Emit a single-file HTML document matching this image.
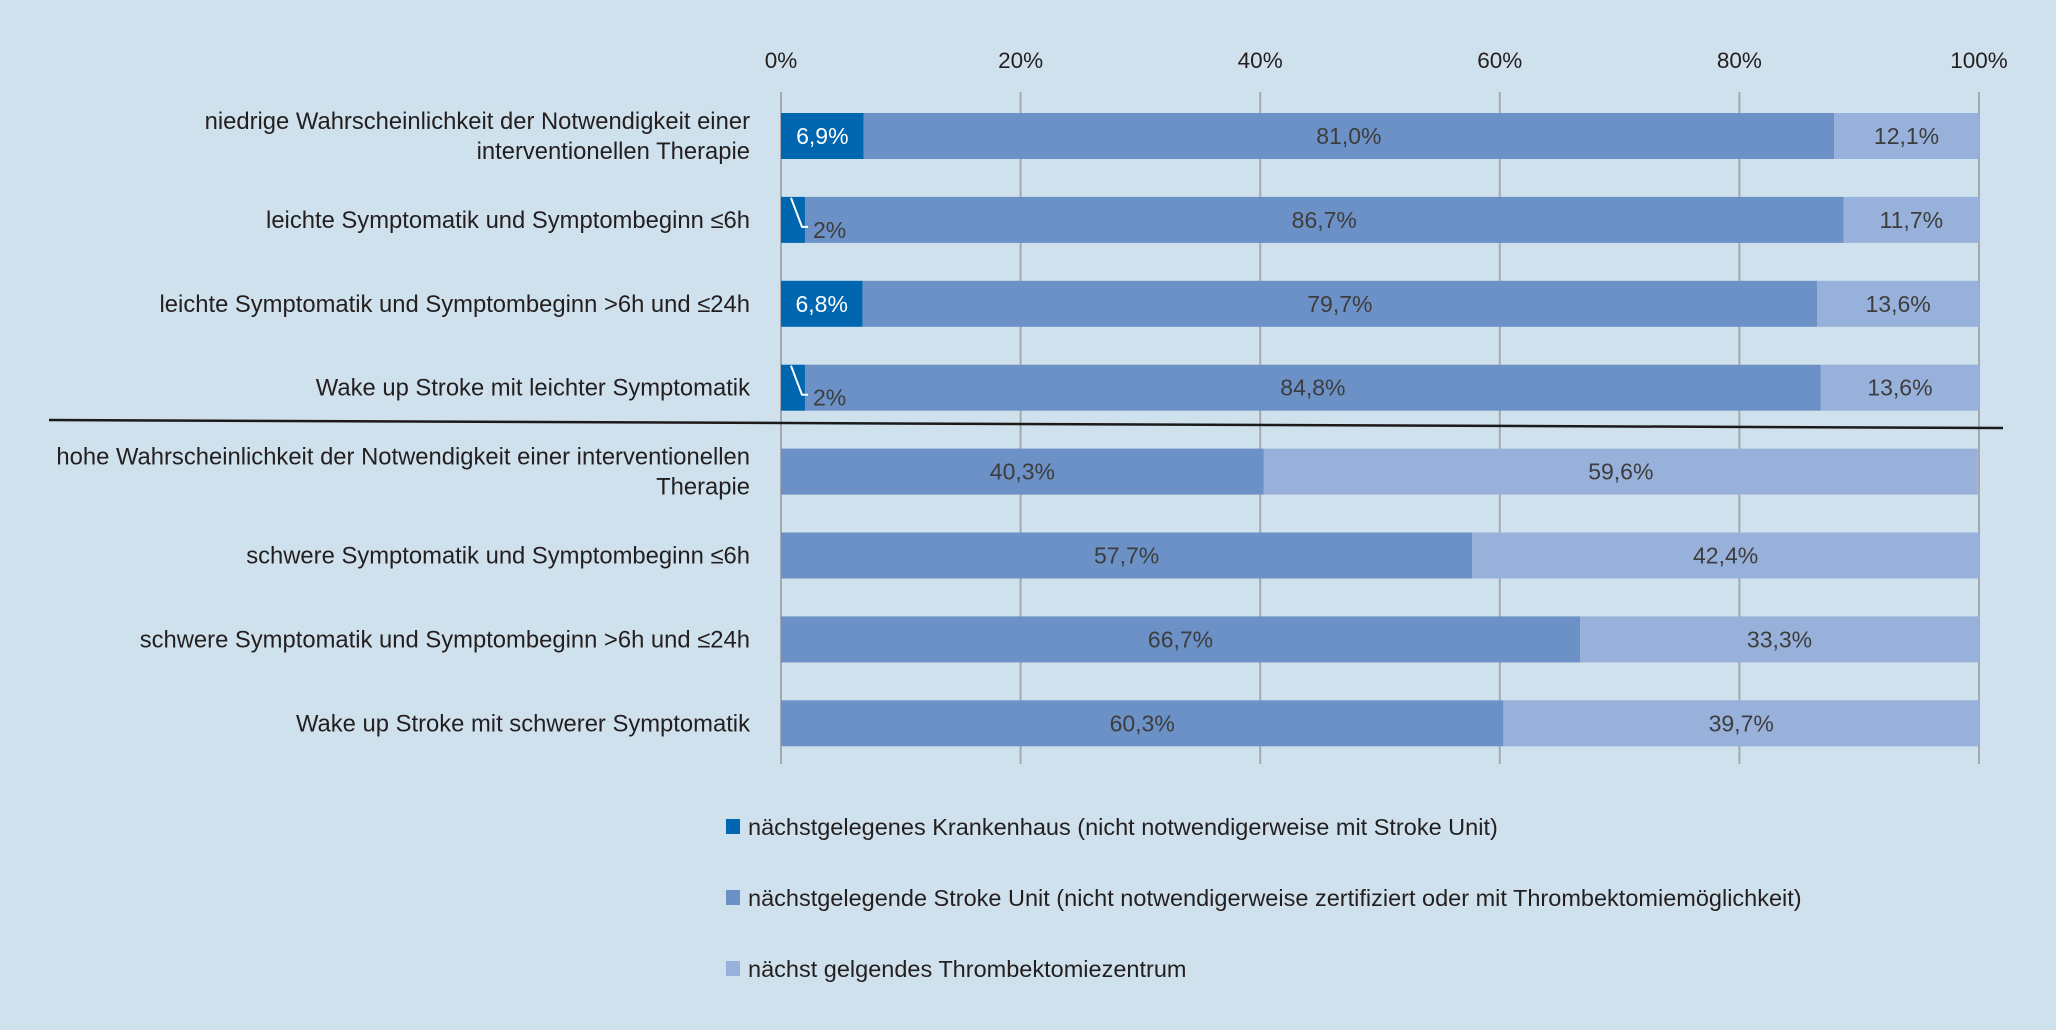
<!DOCTYPE html>
<html><head><meta charset="utf-8"><style>
html,body{margin:0;padding:0;background:#cfe1ec;}
svg{display:block;font-family:"Liberation Sans",sans-serif;}
</style></head><body>
<svg id="chart" width="2056" height="1030" viewBox="0 0 2056 1030" xmlns="http://www.w3.org/2000/svg">
<rect width="2056" height="1030" fill="#cfe1ec"/>
<g id="grid"></g><g id="bars"></g><g id="vals"></g><g id="labels"></g><g id="legend"></g>
</svg>
<script>
const categories = [
 ["niedrige Wahrscheinlichkeit der Notwendigkeit einer","interventionellen Therapie"],
 ["leichte Symptomatik und Symptombeginn ≤6h"],
 ["leichte Symptomatik und Symptombeginn >6h und ≤24h"],
 ["Wake up Stroke mit leichter Symptomatik"],
 ["hohe Wahrscheinlichkeit der Notwendigkeit einer interventionellen","Therapie"],
 ["schwere Symptomatik und Symptombeginn ≤6h"],
 ["schwere Symptomatik und Symptombeginn >6h und ≤24h"],
 ["Wake up Stroke mit schwerer Symptomatik"]
];
const krankenhaus = [6.9, 2, 6.8, 2, 0, 0, 0, 0];
const strokeUnit = [81.0, 86.7, 79.7, 84.8, 40.3, 57.7, 66.7, 60.3];
const thrombZentrum = [12.1, 11.7, 13.6, 13.6, 59.6, 42.4, 33.3, 39.7];
const tickValues = [0, 20, 40, 60, 80, 100];
const tickLabels = ["0%", "20%", "40%", "60%", "80%", "100%"];
const seriesNames = [
 "nächstgelegenes Krankenhaus (nicht notwendigerweise mit Stroke Unit)",
 "nächstgelegende Stroke Unit (nicht notwendigerweise zertifiziert oder mit Thrombektomiemöglichkeit)",
 "nächst gelgendes Thrombektomiezentrum"
];

const NS="http://www.w3.org/2000/svg";
const colors=["#0066b0","#6b91c6","#98b1da"];
const x0=781, x1=1979;
const xs=v=>x0+(x1-x0)*Math.min(v,100)/100;
const rowTop=i=>113+i*83.9;
const barH=46;
function mk(tag,attrs,parent){const e=document.createElementNS(NS,tag);for(const k in attrs)e.setAttribute(k,attrs[k]);parent.appendChild(e);return e;}
const grid=document.getElementById('grid'),bars=document.getElementById('bars'),vals=document.getElementById('vals'),labels=document.getElementById('labels'),legend=document.getElementById('legend');
const fmt=v=>(Number.isInteger(v)&&v<5?String(v):v.toFixed(1).replace('.',','))+'%';

tickValues.forEach((t,i)=>{
 const l=mk('line',{x1:xs(t),x2:xs(t),y1:92,y2:764,stroke:'#a5a9ad','stroke-width':2},grid);
 
 
 const tx=mk('text',{x:xs(t),y:68,'text-anchor':'middle','font-size':22.5,fill:'#231f20'},grid);
 tx.textContent=tickLabels[i];
 
 
});

const series=[krankenhaus,strokeUnit,thrombZentrum];
categories.forEach((cat,i)=>{
 const y=rowTop(i);
 let acc=0;
 series.forEach((s,k)=>{
  const v=s[i]; if(!v) return;
  const a=xs(acc), b=xs(acc+v); acc+=v;
  const r=mk('rect',{x:a,y:y,width:Math.max(0,b-a),height:barH,fill:colors[k]},bars);
  
  
  let tx;
  if(k===0 && v<4){
   const p=mk('polyline',{points:`${a+10},${y+1} ${a+21},${y+30} ${a+27},${y+30}`,fill:'none',stroke:'#fff','stroke-width':2},vals);
   
   
   tx=mk('text',{x:a+32,y:y+41,'font-size':23,fill:'#3d3d3d'},vals);
  } else {
   tx=mk('text',{x:(a+b)/2,y:y+31,'text-anchor':'middle','font-size':23,fill:k===0?'#ffffff':'#3d3d3d'},vals);
  }
  tx.textContent=fmt(v);
  
  
 });
 const cy=y+barH/2;
 cat.forEach((line,j)=>{
  const yy=cat.length===1?cy+8:cy-7+j*30;
  const t=mk('text',{x:750,y:yy,'text-anchor':'end','font-size':23.8,fill:'#231f20'},labels);
  t.textContent=line;
  
  
 });
});
const sep=mk('line',{x1:49,y1:420,x2:2003,y2:428,stroke:'#1a1a1a','stroke-width':2.5},labels);



seriesNames.forEach((n,k)=>{
 const y=[827,898,969][k];
 const g=mk('g',{},legend);
 
 
 mk('rect',{x:726,y:y-8,width:14,height:15,fill:colors[k]},g);
 const t=mk('text',{x:748,y:y+8,'font-size':23.5,fill:'#231f20'},g);
 t.textContent=n;
});
</script>
</body></html>
